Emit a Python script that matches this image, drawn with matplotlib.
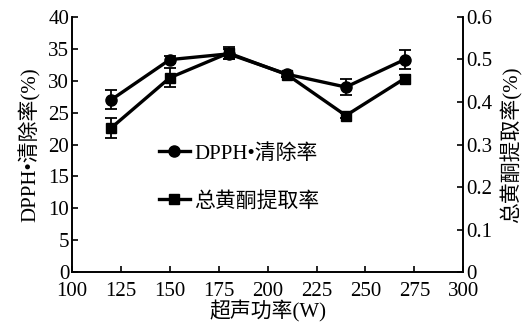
import matplotlib
matplotlib.use("Agg")
import matplotlib.pyplot as plt

plt.rcParams['font.family'] = ['Liberation Serif', 'Noto Sans CJK SC', 'DejaVu Sans']
plt.rcParams['mathtext.fontset'] = 'stix'

power = [120, 150, 180, 210, 240, 270]
dpph = [27.0, 33.3, 34.2, 31.0, 29.0, 33.3]
dpph_err = [1.5, 0.6, 0.8, 0.4, 1.2, 1.5]
flav = [0.339, 0.457, 0.515, 0.464, 0.368, 0.455]
flav_err = [0.023, 0.022, 0.014, 0.006, 0.005, 0.009]

xticks = [100, 125, 150, 175, 200, 225, 250, 275, 300]
yticks_left = [0, 5, 10, 15, 20, 25, 30, 35, 40]
yticks_right = [0, 0.1, 0.2, 0.3, 0.4, 0.5, 0.6]
yticks_right_labels = ['0', '0.1', '0.2', '0.3', '0.4', '0.5', '0.6']

fig = plt.figure(figsize=(5.3, 3.24), dpi=100)
ax = fig.add_axes([0.136, 0.16, 0.738, 0.788])
ax2 = ax.twinx()

fs = 15
lw = 2.4

ax.errorbar(power, dpph, yerr=dpph_err, fmt='none', ecolor='black', elinewidth=1.3, capsize=4, capthick=1.3)
l1, = ax.plot(power, dpph, '-o', color='black', lw=lw, markersize=8, label='DPPH•清除率')
ax2.errorbar(power, flav, yerr=flav_err, fmt='none', ecolor='black', elinewidth=1.3, capsize=4, capthick=1.3)
l2, = ax2.plot(power, flav, '-s', color='black', lw=lw, markersize=7.5, label='总黄酮提取率')

ax.set_xlim(100, 300)
ax.set_ylim(0, 40)
ax2.set_ylim(0, 0.6)
ax.set_xticks(xticks)
ax.set_yticks(yticks_left)
ax2.set_yticks(yticks_right)
ax2.set_yticklabels(yticks_right_labels)

for a in (ax, ax2):
    a.spines['top'].set_visible(False)
    for s in a.spines.values():
        s.set_linewidth(1.2)
ax.tick_params(direction='in', length=4, width=1.2, labelsize=fs, pad=2)
ax.tick_params(axis='x', pad=7)
ax2.tick_params(direction='in', length=4, width=1.2, labelsize=fs, pad=2)

ax.set_xlabel('超声功率(W)', fontsize=fs, labelpad=0)
ax.set_ylabel('DPPH•清除率(%)', fontsize=fs, labelpad=5)
ax2.set_ylabel('总黄酮提取率(%)', fontsize=fs, labelpad=6)

leg = ax2.legend(handles=[l1, l2], loc='upper left', bbox_to_anchor=(0.2, 0.535),
                 frameon=False, fontsize=fs, handlelength=1.5, handletextpad=0.2,
                 labelspacing=1.35, borderaxespad=0)

fig.savefig('out.png', dpi=100)
